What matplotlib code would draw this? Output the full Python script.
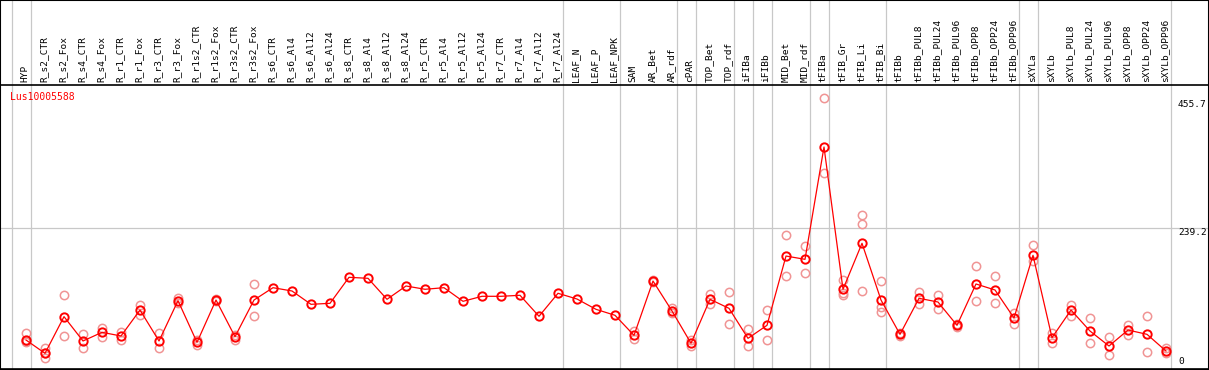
import numpy as np
import matplotlib
matplotlib.use("Agg")
import matplotlib.pyplot as plt

probe = "Lus10005588"

samples = ["HYP", "R_s2_CTR", "R_s2_Fox", "R_s4_CTR", "R_s4_Fox", "R_r1_CTR", "R_r1_Fox",
           "R_r3_CTR", "R_r3_Fox", "R_r1s2_CTR", "R_r1s2_Fox", "R_r3s2_CTR", "R_r3s2_Fox",
           "R_s6_CTR", "R_s6_Al4", "R_s6_Al12", "R_s6_Al24", "R_s8_CTR", "R_s8_Al4",
           "R_s8_Al12", "R_s8_Al24", "R_r5_CTR", "R_r5_Al4", "R_r5_Al12", "R_r5_Al24",
           "R_r7_CTR", "R_r7_Al4", "R_r7_Al12", "R_r7_Al24", "LEAF_N", "LEAF_P", "LEAF_NPK",
           "SAM", "AR_Bet", "AR_rdf", "cPAR", "TOP_Bet", "TOP_rdf", "iFIBa", "iFIBb",
           "MID_Bet", "MID_rdf", "tFIBa", "tFIB_Gr", "tFIB_Li", "tFIB_Bi", "tFIBb",
           "tFIBb_PUL8", "tFIBb_PUL24", "tFIBb_PUL96", "tFIBb_OPP8", "tFIBb_OPP24",
           "tFIBb_OPP96", "sXYLa", "sXYLb", "sXYLb_PUL8", "sXYLb_PUL24", "sXYLb_PUL96",
           "sXYLb_OPP8", "sXYLb_OPP24", "sXYLb_OPP96"]

# mean expression per sample
means = [49.2, 26.6, 88.8, 47.5, 62.2, 56.0, 100.0, 47.5, 115.9, 45.2,
         117.0, 54.8, 117.0, 137.9, 132.3, 109.7, 111.4, 155.5, 153.8, 118.2,
         140.8, 135.2, 137.9, 114.8, 123.3, 123.3, 125.0, 89.4, 128.4, 118.7,
         101.2, 91.1, 57.1, 149.2, 98.4, 43.6, 118.2, 102.9, 52.0, 74.1,
         191.6, 186.0, 376.5, 135.2, 213.2, 117.0, 58.8, 119.9, 113.6, 74.1,
         144.2, 134.0, 86.5, 192.8, 53.1, 100.0, 64.4, 39.0, 66.1, 58.8, 30.5]

# individual replicates
reps = [[61.6, 45.8, 47.0], [35.1, 18.1, 27.0], [125.5, 55.4], [58.8, 36.2], [70.1, 54.3],
        [62.2, 49.2], [108.5, 91.6], [60.5, 35.1], [119.9, 112.5], [49.2, 40.7],
        [118.0, 116.0], [57.7, 49.2], [143.6, 90.4],
        [], [], [], [], [], [], [], [], [], [], [], [], [], [], [], [], [], [], [],
        [65.0, 50.4], [151.0, 147.0], [102.9, 94.5], [49.2, 39.0], [127.2, 109.7],
        [130.1, 76.3], [67.3, 39.0], [100.0, 49.2], [227.3, 157.7], [208.6, 162.3],
        [459.1, 332.9], [150.4, 128.4, 125.5], [261.2, 245.4, 132.3], [149.2, 105.7, 96.2],
        [61.0, 56.0], [130.6, 109.7], [125.5, 101.2], [76.0, 72.0], [174.7, 115.3],
        [157.7, 111.4], [95.5, 75.8], [209.8, 183.2], [60.5, 44.6], [108.5, 90.4],
        [86.5, 43.6], [54.3, 23.2], [74.6, 57.7], [89.9, 28.3], [35.1, 27.6]]

# last sample of each group (-1 = left edge)
group_ends = [-1, 0, 28, 31, 34, 35, 37, 38, 39, 41, 42, 45, 52, 53, 60]
ytick_vals = [0, 239.2, 455.7]

px = 19.0          # pixels per sample
upp = 1.696        # data units per pixel
W, H = 1209, 370

fig = plt.figure(figsize=(W / 100, H / 100), dpi=100)
ax = fig.add_axes([0, 0, 1, 1])
ax.set_xlim(-26 / px, (W - 26) / px)
ax.set_ylim(-1 * upp, 369 * upp)
ax.set_xticks([])
ax.set_yticks([])
for s in ax.spines.values():
    s.set_color("black")
    s.set_linewidth(1.5)

x = np.arange(len(samples))

for g in group_ends:
    ax.axvline(g + 0.25, color="#c8c8c8", lw=0.9, zorder=1)
ax.axhline(239.2, color="#c8c8c8", lw=0.9, zorder=1)
ax.axhline(0, color="black", lw=1.2, zorder=2)
ax.axhline((369 - 85) * upp, color="black", lw=1.2, zorder=2)

rx = [i for i in x for _ in reps[i]]
ry = [v for i in x for v in reps[i]]
ax.plot(rx, ry, ls="none", marker="o", ms=6, mfc="none", mec="#f09494", mew=1.1, zorder=3)
ax.plot(x, means, color="red", lw=0.9, marker="o", ms=6, mfc="none", mec="red", mew=1.4, zorder=4)

mono = "DejaVu Sans Mono"
for i, name in enumerate(samples):
    ax.text(i - 0.05, (369 - 82) * upp, name, rotation=90, ha="center", va="bottom",
            fontsize=6.8, family=mono)

ax.text((10 - 26) / px, (369 - 92) * upp, probe, color="red", ha="left", va="top",
        fontsize=7, family=mono)

for v in ytick_vals:
    if v == 0:
        ax.text((1178 - 26) / px, 3 * upp, "0", ha="left", va="bottom", fontsize=6.8, family=mono)
    else:
        ax.text((1178 - 26) / px, v, "%.1f" % v, ha="left", va="top", fontsize=6.8, family=mono)

plt.savefig("out.png", dpi=100)
